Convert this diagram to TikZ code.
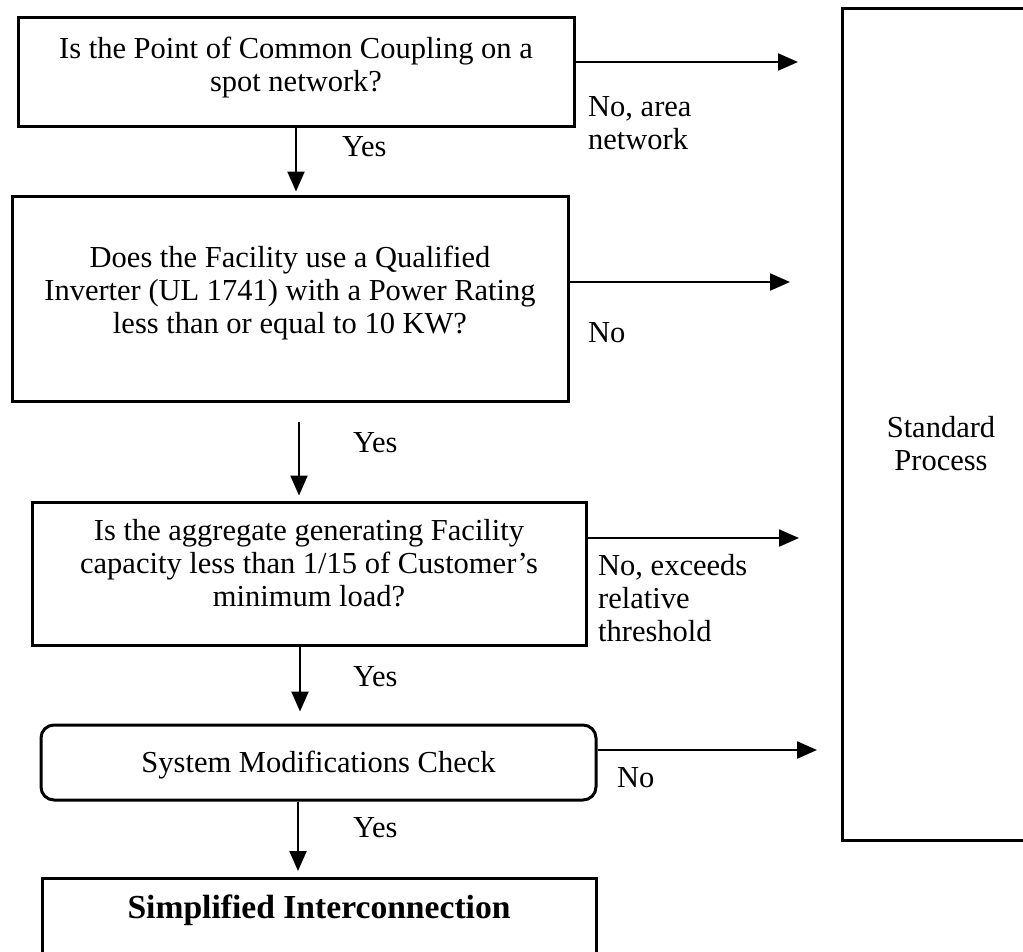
\documentclass[tikz,border=0pt]{standalone}
\usepackage{fontspec}
\setmainfont{Liberation Serif}
\usetikzlibrary{arrows.meta}
\newcommand\flowfont{\fontsize{30.5}{33}\selectfont}
\newcommand\headfont{\fontsize{33.6}{36}\selectfont\bfseries}
\begin{document}
\begin{tikzpicture}[x=1pt,y=-1pt,
  box/.style={draw, line width=3pt, rectangle, inner sep=0pt},
  rbox/.style={box, rounded corners=13pt},
  boxtext/.style={align=center, inner sep=0pt, font=\flowfont},
  lbl/.style={anchor=west, align=left, inner sep=0pt, font=\flowfont},
  flow/.style={line width=2.3pt, -{Triangle[length=20pt,width=17pt]}}]
\clip (0,0) rectangle (1023,951);

% decision boxes
\node[box, minimum width=556pt, minimum height=109pt] (q1) at (296,71.5) {};
\node[boxtext] (q1t) at (296,67.5) {Is the Point of Common Coupling on a\\spot network?};

\node[box, minimum width=556pt, minimum height=205pt] (q2) at (290,298.5) {};
\node[boxtext] (q2t) at (290,293) {Does the Facility use a Qualified\\Inverter (UL 1741) with a Power Rating\\less than or equal to 10 KW?};

\node[box, minimum width=554pt, minimum height=143pt] (q3) at (309,573.5) {};
\node[boxtext] (q3t) at (309,563.5) {Is the aggregate generating Facility\\capacity less than 1/15 of Customer’s\\minimum load?};

\node[rbox, minimum width=555pt, minimum height=75pt] (chk) at (318.5,762.5) {};
\node[boxtext] (chkt) at (318.5,765) {System Modifications Check};

% outcomes
\node[box, anchor=north, minimum width=554pt, minimum height=130pt] (simp) at (319,877) {};
\node[boxtext, font=\headfont] (simpt) at (319,910) {Simplified Interconnection};

\node[box, minimum width=198pt, minimum height=832pt] (std) at (941,424) {};
\node[boxtext] (stdt) at (941,443.5) {Standard\\Process};

% free ends of the "No" branches
\coordinate (e1) at (798,62);
\coordinate (e2) at (790,282);
\coordinate (e3) at (799,538);
\coordinate (e4) at (817,750);

% "Yes" branches
\draw[flow, shorten >=3pt] (q1.south) -- (q1.south |- q2.north);
\draw[flow, shorten <=19pt, shorten >=5pt] ([xshift=9pt]q2.south) -- ([xshift=9pt]q2.south |- q3.north);
\draw[flow, shorten >=12pt] ([xshift=-9pt]q3.south) -- ([xshift=-9pt]q3.south |- chk.north);
\draw[flow, shorten >=6pt] ([xshift=-20.5pt]chk.south) -- ([xshift=-20.5pt]chk.south |- simp.north);

% "No" branches
\draw[flow] (q1.east |- e1) -- (e1);
\draw[flow] (q2.east |- e2) -- (e2);
\draw[flow] (q3.east |- e3) -- (e3);
\draw[flow] (chk.east |- e4) -- (e4);

% branch labels
\node[lbl] (y1) at (342,147) {Yes};
\node[lbl] (n1) at (588,123) {No, area\\network};
\node[lbl] (n2) at (588,333) {No};
\node[lbl] (y2) at (353,443) {Yes};
\node[lbl] (n3) at (598,598) {No, exceeds\\relative\\threshold};
\node[lbl] (y3) at (353,677) {Yes};
\node[lbl] (n4) at (617,778) {No};
\node[lbl] (y4) at (353,828) {Yes};
\end{tikzpicture}
\end{document}
